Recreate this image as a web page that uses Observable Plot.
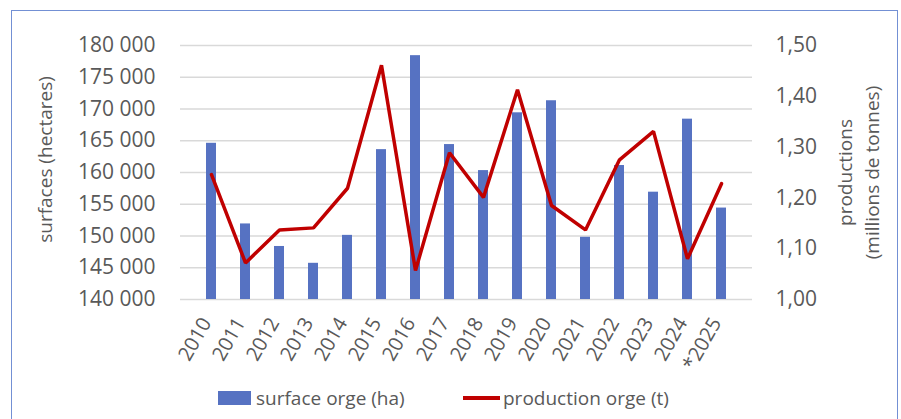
<!DOCTYPE html>
<html>
<head>
<meta charset="utf-8">
<script src="https://cdn.jsdelivr.net/npm/d3@7"></script>
<script src="https://cdn.jsdelivr.net/npm/@observablehq/plot@0.6"></script>
<style>
  html, body { margin: 0; padding: 0; background: #fff; }
  body { width: 901px; height: 419px; overflow: hidden; position: relative; font-family: "Open Sans", "Noto Sans", sans-serif; }
  #frame { position: absolute; left: 11px; top: 10px; width: 887px; height: 430px; border: 1.5px solid #7390d4; box-sizing: border-box; pointer-events: none; }
  #chart { position: absolute; left: 0; top: 0; }
  #legend { position: absolute; left: 0; top: 384px; width: 901px; height: 28px; color: #595959; font-size: 19px; }
  .item { position: absolute; top: 0; display: flex; align-items: center; height: 28px; }
  .sw-bar { width: 33px; height: 14px; background: #5672c2; margin-right: 5px; }
  .sw-line { width: 37px; height: 3.5px; background: #c00000; margin-right: 3px; }
</style>
</head>
<body>
<div id="chart"></div>
<div id="legend">
  <div class="item" style="left:218px"><span class="sw-bar"></span><span id="l1"></span></div>
  <div class="item" style="left:463px"><span class="sw-line"></span><span id="l2"></span></div>
</div>
<div id="frame"></div>
<script>
const years = ["2010","2011","2012","2013","2014","2015","2016","2017","2018","2019","2020","2021","2022","2023","2024","*2025"];
const surface = [164600,151900,148350,145700,150100,163600,178400,164400,160300,169400,171300,149800,161100,156900,168400,154400];
const production = [1.246,1.072,1.137,1.141,1.219,1.461,1.057,1.289,1.201,1.413,1.185,1.137,1.275,1.331,1.080,1.228];
const leftTicks = [140000,145000,150000,155000,160000,165000,170000,175000,180000];
const rightTicks = [1.00,1.10,1.20,1.30,1.40,1.50];
const seriesNames = ["surface orge (ha)", "production orge (t)"];
const leftTitle = "surfaces (hectares)";
const rightTitle = "productions\n(millions de tonnes)";

const leftDomain = [140000, 180000];
const rightDomain = [1.0, 1.5];
const toLeft = v => leftDomain[0] + (v - rightDomain[0]) / (rightDomain[1] - rightDomain[0]) * (leftDomain[1] - leftDomain[0]);

const data = years.map((y, i) => ({year: y, surface: surface[i], production: production[i], p: toLeft(production[i])}));

const fmtSpace = d => { const s = String(d); return s.slice(0, s.length - 3) + " " + s.slice(-3); };
const fmtRight = d => d.toFixed(2).replace(".", ",");

const H = 375;
const chart = Plot.plot({
  width: 901,
  height: H,
  marginLeft: 180,
  marginRight: 149,
  marginTop: 45,
  marginBottom: H - 299,
  style: { fontFamily: "'Open Sans', 'Noto Sans', sans-serif", color: "#595959", background: "transparent" },
  x: { domain: years, padding: 0.7, align: 0.5 },
  y: { domain: leftDomain },
  marks: [
    Plot.ruleY(leftTicks, { stroke: "#d9d9d9", strokeWidth: 1.5, strokeOpacity: 1 }),
    Plot.barY(data, { x: "year", y1: leftDomain[0], y2: "surface", fill: "#5672c2" }),
    Plot.line(data, { x: "year", y: "p", stroke: "#c00000", strokeWidth: 3.5, strokeLinejoin: "miter", curve: "linear" }),
    Plot.axisY({ anchor: "left", ticks: leftTicks, tickSize: 0, tickPadding: 25, tickFormat: fmtSpace, fontSize: 21, label: null, fill: "#595959" }),
    Plot.axisY({ anchor: "right", ticks: rightTicks.map(toLeft), tickSize: 0, tickPadding: 23, tickFormat: (d, i) => fmtRight(rightTicks[i]), fontSize: 21, label: null, fill: "#595959", textAnchor: "start" }),
    Plot.axisX({ anchor: "bottom", tickSize: 0, tickPadding: 20, tickRotate: -60, fontSize: 20, label: null, fill: "#595959", dx: -5 }),
    Plot.text([leftTitle], { frameAnchor: "left", dx: -135, dy: -13, rotate: -90, textAnchor: "middle", lineAnchor: "middle", fontSize: 19, fill: "#595959", text: d => d }),
    Plot.text([rightTitle], { frameAnchor: "right", dx: 104, rotate: -90, textAnchor: "middle", lineAnchor: "middle", fontSize: 19, fill: "#595959", lineHeight: 1.42, text: d => d })
  ]
});
document.getElementById("chart").appendChild(chart);
document.getElementById("l1").textContent = seriesNames[0];
document.getElementById("l2").textContent = seriesNames[1];
</script>
</body>
</html>
